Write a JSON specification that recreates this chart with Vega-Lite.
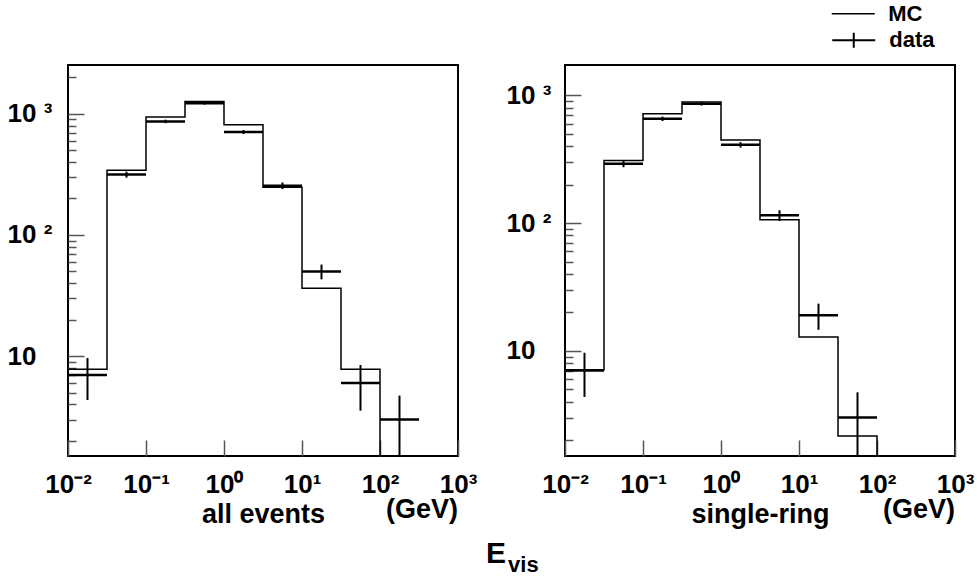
{
  "$schema": "https://vega.github.io/schema/vega-lite/v6.json",
  "padding": {"left": -2, "top": 2, "right": 0, "bottom": 5},
  "bounds": "flush",
  "spacing": 107,
  "config": {
    "font": "Liberation Sans",
    "view": {"stroke": "black", "strokeWidth": 2},
    "axis": {
      "grid": false,
      "domain": false,
      "labelFont": "Liberation Sans",
      "labelFontWeight": "bold",
      "labelFontSize": 26,
      "labelColor": "black",
      "tickColor": "#555",
      "tickWidth": 1.5,
      "labelOverlap": false,
      "labelFlush": false,
      "labelBound": false,
      "titleFont": "Liberation Sans",
      "titleFontWeight": "bold",
      "titleColor": "black"
    },
    "legend": {
      "labelFont": "Liberation Sans",
      "labelFontWeight": "bold",
      "labelFontSize": 22,
      "labelColor": "black",
      "padding": 0
    }
  },
  "datasets": {
    "allEvents": [
      {"lo": 0.01, "hi": 0.03162, "center": 0.01778, "mc": 7.8, "data": 7, "errLo": 4.35, "errHi": 9.65},
      {"lo": 0.03162, "hi": 0.1, "center": 0.05623, "mc": 342, "data": 315, "errLo": 297, "errHi": 333},
      {"lo": 0.1, "hi": 0.3162, "center": 0.1778, "mc": 939, "data": 865, "errLo": 836, "errHi": 894},
      {"lo": 0.3162, "hi": 1, "center": 0.5623, "mc": 1263, "data": 1224, "errLo": 1189, "errHi": 1259},
      {"lo": 1, "hi": 3.162, "center": 1.778, "mc": 811, "data": 707, "errLo": 680, "errHi": 734},
      {"lo": 3.162, "hi": 10, "center": 5.623, "mc": 247, "data": 255, "errLo": 239, "errHi": 271},
      {"lo": 10, "hi": 31.62, "center": 17.78, "mc": 36.3, "data": 50, "errLo": 43, "errHi": 57},
      {"lo": 31.62, "hi": 100, "center": 56.23, "mc": 7.8, "data": 6, "errLo": 3.55, "errHi": 8.45},
      {"lo": 100, "hi": 316.2, "center": 177.8, "mc": 1.0, "data": 3, "errLo": 1.27, "errHi": 4.73}
    ],
    "singleRing": [
      {"lo": 0.01, "hi": 0.03162, "center": 0.01778, "mc": 7.1, "data": 7, "errLo": 4.35, "errHi": 9.65},
      {"lo": 0.03162, "hi": 0.1, "center": 0.05623, "mc": 309, "data": 291, "errLo": 274, "errHi": 308},
      {"lo": 0.1, "hi": 0.3162, "center": 0.1778, "mc": 718, "data": 656, "errLo": 630, "errHi": 682},
      {"lo": 0.3162, "hi": 1, "center": 0.5623, "mc": 887, "data": 861, "errLo": 832, "errHi": 890},
      {"lo": 1, "hi": 3.162, "center": 1.778, "mc": 447, "data": 410, "errLo": 390, "errHi": 430},
      {"lo": 3.162, "hi": 10, "center": 5.623, "mc": 106, "data": 115, "errLo": 104, "errHi": 126},
      {"lo": 10, "hi": 31.62, "center": 17.78, "mc": 12.8, "data": 19, "errLo": 14.6, "errHi": 23.4},
      {"lo": 31.62, "hi": 100, "center": 56.23, "mc": 2.15, "data": 3, "errLo": 1.27, "errHi": 4.73},
      {"lo": 100, "hi": 316.2, "center": 177.8, "mc": 1.0}
    ]
  },
  "title": {
    "text": "E",
    "subtitle": "\u2800 vis",
    "orient": "bottom",
    "anchor": "start",
    "frame": "group",
    "align": "left",
    "dx": 418,
    "offset": 11,
    "font": "Liberation Sans",
    "fontSize": 30,
    "fontWeight": "bold",
    "color": "black",
    "subtitleFont": "Liberation Sans",
    "subtitleFontSize": 22,
    "subtitleFontWeight": "bold",
    "subtitleColor": "black",
    "subtitlePadding": -14
  },
  "hconcat": [
    {
      "width": 390,
      "height": 391,
      "data": {"name": "allEvents"},
      "title": {"text": "(GeV)", "orient": "bottom", "anchor": "end", "frame": "group", "offset": -30, "fontSize": 27, "fontWeight": "bold", "color": "black", "font": "Liberation Sans"},
      "layer": [
        {
          "mark": {"type": "line", "interpolate": "step-after", "strokeWidth": 1.5, "clip": true},
          "encoding": {
            "x": {"field": "lo", "type": "quantitative",
              "scale": {"type": "log", "domain": [0.01, 1000], "nice": false},
              "axis": {
                "values": [0.01, 0.1, 1, 10, 100, 1000],
                "labelExpr": "datum.value === 0.01 ? '10⁻²' : datum.value === 0.1 ? '10⁻¹' : datum.value === 1 ? '10⁰' : datum.value === 10 ? '10¹' : datum.value === 100 ? '10²' : '10³'",
                "tickSize": -16,
                "labelPadding": 31,
                "title": "all events",
                "titleFontSize": 27,
                "titlePadding": 4
              }},
            "y": {"field": "mc", "type": "quantitative",
              "scale": {"type": "log", "domain": [1.5, 2526], "nice": false},
              "axis": {
                "values": [2, 3, 4, 5, 6, 7, 8, 9, 10, 20, 30, 40, 50, 60, 70, 80, 90, 100, 200, 300, 400, 500, 600, 700, 800, 900, 1000, 2000],
                "labelExpr": "datum.value === 10 ? '10' : datum.value === 100 ? '10 ²' : datum.value === 1000 ? '10 ³' : ''",
                "tickSize": {"condition": {"test": "datum.value === 10 || datum.value === 100 || datum.value === 1000", "value": -16}, "value": -8},
                "labelAlign": "left",
                "labelBaseline": "middle",
                "labelPadding": 77,
                "title": null
              }},
            "color": {"datum": "MC", "scale": {"domain": ["MC"], "range": ["black"]},
              "legend": {"orient": "none", "legendX": 773.75, "legendY": -62.75, "title": null, "symbolType": "M-2,0H2", "symbolSize": 462, "symbolStrokeWidth": 1.5, "symbolFillColor": "transparent", "labelOffset": 23.5}}
          }
        },
        {
          "mark": {"type": "rule", "color": "black", "strokeWidth": 2.5, "clip": true},
          "encoding": {
            "x": {"field": "lo", "type": "quantitative"},
            "x2": {"field": "hi"},
            "y": {"field": "data", "type": "quantitative"},
            "opacity": {"datum": "data", "scale": {"domain": ["data"], "range": [1]},
              "legend": {"orient": "none", "legendX": 773.75, "legendY": -36.75, "title": null, "symbolType": "M-2,0H2M0,-0.7V0.7", "symbolSize": 462, "symbolStrokeWidth": 2, "symbolStrokeColor": "black", "symbolFillColor": "transparent", "labelOffset": 23.5}}
          }
        },
        {
          "mark": {"type": "rule", "color": "black", "strokeWidth": 2, "clip": true},
          "encoding": {
            "x": {"field": "center", "type": "quantitative"},
            "y": {"field": "errLo", "type": "quantitative"},
            "y2": {"field": "errHi"}
          }
        }
      ]
    },
    {
      "width": 390,
      "height": 391,
      "data": {"name": "singleRing"},
      "title": {"text": "(GeV)", "orient": "bottom", "anchor": "end", "frame": "group", "offset": -30, "fontSize": 27, "fontWeight": "bold", "color": "black", "font": "Liberation Sans"},
      "layer": [
        {
          "mark": {"type": "line", "interpolate": "step-after", "strokeWidth": 1.5, "clip": true},
          "encoding": {
            "x": {"field": "lo", "type": "quantitative",
              "scale": {"type": "log", "domain": [0.01, 1000], "nice": false},
              "axis": {
                "values": [0.01, 0.1, 1, 10, 100, 1000],
                "labelExpr": "datum.value === 0.01 ? '10⁻²' : datum.value === 0.1 ? '10⁻¹' : datum.value === 1 ? '10⁰' : datum.value === 10 ? '10¹' : datum.value === 100 ? '10²' : '10³'",
                "tickSize": -16,
                "labelPadding": 31,
                "title": "single-ring",
                "titleFontSize": 27,
                "titlePadding": 4
              }},
            "y": {"field": "mc", "type": "quantitative",
              "scale": {"type": "log", "domain": [1.5, 1730], "nice": false},
              "axis": {
                "values": [2, 3, 4, 5, 6, 7, 8, 9, 10, 20, 30, 40, 50, 60, 70, 80, 90, 100, 200, 300, 400, 500, 600, 700, 800, 900, 1000],
                "labelExpr": "datum.value === 10 ? '10' : datum.value === 100 ? '10 ²' : datum.value === 1000 ? '10 ³' : ''",
                "tickSize": {"condition": {"test": "datum.value === 10 || datum.value === 100 || datum.value === 1000", "value": -16}, "value": -8},
                "labelAlign": "left",
                "labelBaseline": "middle",
                "labelPadding": 75,
                "title": null
              }},
            "color": {"datum": "MC", "scale": {"domain": ["MC"], "range": ["black"]},
              "legend": {"orient": "none", "legendX": 773.75, "legendY": -62.75, "title": null, "symbolType": "M-2,0H2", "symbolSize": 462, "symbolStrokeWidth": 1.5, "symbolFillColor": "transparent", "labelOffset": 23.5}}
          }
        },
        {
          "mark": {"type": "rule", "color": "black", "strokeWidth": 2.5, "clip": true},
          "encoding": {
            "x": {"field": "lo", "type": "quantitative"},
            "x2": {"field": "hi"},
            "y": {"field": "data", "type": "quantitative"},
            "opacity": {"datum": "data", "scale": {"domain": ["data"], "range": [1]},
              "legend": {"orient": "none", "legendX": 773.75, "legendY": -36.75, "title": null, "symbolType": "M-2,0H2M0,-0.7V0.7", "symbolSize": 462, "symbolStrokeWidth": 2, "symbolStrokeColor": "black", "symbolFillColor": "transparent", "labelOffset": 23.5}}
          }
        },
        {
          "mark": {"type": "rule", "color": "black", "strokeWidth": 2, "clip": true},
          "encoding": {
            "x": {"field": "center", "type": "quantitative"},
            "y": {"field": "errLo", "type": "quantitative"},
            "y2": {"field": "errHi"}
          }
        }
      ]
    }
  ]
}
